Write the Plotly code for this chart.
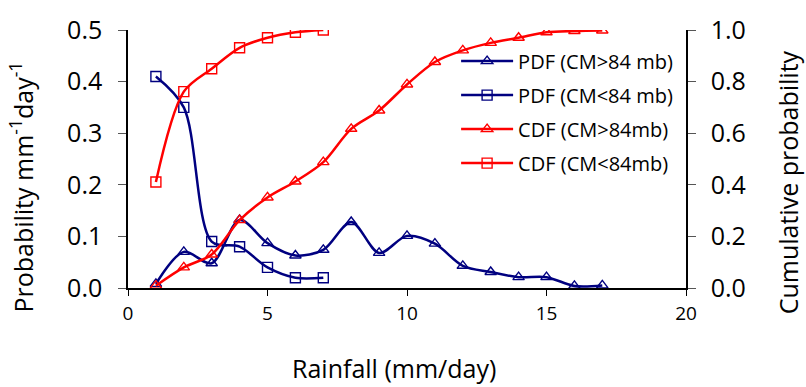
import plotly.graph_objects as go

# Data
rain_gt = [1, 2, 3, 4, 5, 6, 7, 8, 9, 10, 11, 12, 13, 14, 15, 16, 17]
pdf_gt = [0.008, 0.070, 0.048, 0.132, 0.087, 0.063, 0.074, 0.128, 0.068,
          0.101, 0.086, 0.043, 0.031, 0.021, 0.021, 0.004, 0.005]
cdf_gt = [0.009, 0.080, 0.130, 0.263, 0.351, 0.413, 0.488, 0.617, 0.688,
          0.789, 0.876, 0.921, 0.950, 0.970, 0.991, 0.996, 0.998]

rain_lt = [1, 2, 3, 4, 5, 6, 7]
pdf_lt = [0.410, 0.350, 0.090, 0.080, 0.040, 0.020, 0.020]
cdf_lt = [0.411, 0.761, 0.850, 0.931, 0.970, 0.991, 1.000]

names = ["PDF (CM>84 mb)", "PDF (CM<84 mb)", "CDF (CM>84mb)", "CDF (CM<84mb)"]

NAVY = "#000080"
RED = "#FF0000"
FONT = "Open Sans"
AX = "#000000"

fig = go.Figure()

def add(x, y, name, color, symbol, yaxis, grp):
    fig.add_trace(go.Scatter(
        x=x, y=y, name=name, mode="lines+markers", yaxis=yaxis,
        legendgroup=grp,
        line=dict(color=color, width=2.5, shape="spline", smoothing=0.9),
        marker=dict(symbol=symbol, size=10, color=color,
                    line=dict(color=color, width=1.4)),
    ))

add(rain_gt, pdf_gt, names[0], NAVY, "triangle-up-open", "y", "g1")
add(rain_lt, pdf_lt, names[1], NAVY, "square-open", "y", "g2")
add(rain_gt, cdf_gt, names[2], RED, "triangle-up-open", "y2", "g3")
add(rain_lt, cdf_lt, names[3], RED, "square-open", "y2", "g4")

tickfont = dict(family=FONT, size=25, color="#000")

fig.update_layout(
    width=806, height=387,
    margin=dict(l=128, r=120, t=21, b=99),
    paper_bgcolor="white", plot_bgcolor="white",
    font=dict(family=FONT, color="#000"),
    showlegend=True,
    legend=dict(
        x=0.588, y=0.955, xanchor="left", yanchor="top",
        bgcolor="rgba(255,255,255,0)", borderwidth=0,
        font=dict(family=FONT, size=20, color="#000"),
        tracegroupgap=5, itemwidth=52,
        traceorder="grouped",
    ),
    xaxis=dict(
        range=[0, 20], tickvals=[0, 5, 10, 15, 20],
        showgrid=False, zeroline=False,
        showline=True, linecolor=AX, linewidth=1.5,
        ticks="outside", ticklen=6, tickcolor=AX, tickwidth=1.2,
        tickfont=dict(family=FONT, size=19, color="#000"),
        ticklabelstandoff=1,
    ),
    xaxis2=dict(
        range=[0, 20], tickvals=[0, 5, 10, 15, 20], overlaying="x",
        side="bottom", anchor="y",
        showgrid=False, zeroline=False, showline=False,
        ticks="inside", ticklen=4, tickcolor=AX, tickwidth=1.2,
        showticklabels=False,
    ),
    xaxis3=dict(
        range=[0, 20], overlaying="x", side="top", anchor="y",
        showgrid=False, zeroline=False, showline=True,
        linecolor="#808080", linewidth=1.5,
        ticks="", showticklabels=False,
    ),
    yaxis=dict(
        range=[0, 0.5], tickvals=[0, 0.1, 0.2, 0.3, 0.4, 0.5],
        tickformat=".1f",
        showgrid=False, zeroline=False,
        showline=True, linecolor=AX, linewidth=1.5,
        ticks="outside", ticklen=8, tickcolor="#555", tickwidth=1.2,
        tickfont=tickfont, ticklabelstandoff=11,
    ),
    yaxis2=dict(
        range=[0, 1.0], tickvals=[0, 0.2, 0.4, 0.6, 0.8, 1.0],
        tickformat=".1f", overlaying="y", side="right", anchor="x",
        showgrid=False, zeroline=False,
        showline=True, linecolor=AX, linewidth=1.5,
        ticks="outside", ticklen=8, tickcolor="#555", tickwidth=1.2,
        tickfont=tickfont, ticklabelstandoff=10,
    ),
    yaxis3=dict(
        range=[0, 0.5], tickvals=[0, 0.1, 0.2, 0.3, 0.4, 0.5],
        overlaying="y", side="left", anchor="x",
        showgrid=False, zeroline=False, showline=False,
        ticks="inside", ticklen=8, tickcolor="#555", tickwidth=1.2,
        showticklabels=False,
    ),
    yaxis4=dict(
        range=[0, 1.0], tickvals=[0, 0.2, 0.4, 0.6, 0.8, 1.0],
        overlaying="y", side="right", anchor="x",
        showgrid=False, zeroline=False, showline=False,
        ticks="inside", ticklen=8, tickcolor="#555", tickwidth=1.2,
        showticklabels=False,
    ),
    annotations=[
        dict(text="Rainfall (mm/day)", xref="paper", yref="paper",
             x=0.477, y=-0.31, xanchor="center", yanchor="middle",
             showarrow=False, font=dict(family=FONT, size=25, color="#000")),
        dict(text="Probability mm<sup>-1</sup>day<sup>-1</sup>",
             xref="paper", yref="paper", x=-0.19, y=0.393,
             xanchor="center", yanchor="middle", textangle=-90,
             showarrow=False, font=dict(family=FONT, size=25, color="#000")),
        dict(text="Cumulative probability", xref="paper", yref="paper",
             x=1.183, y=0.41, xanchor="center", yanchor="middle",
             textangle=-90, showarrow=False,
             font=dict(family=FONT, size=25, color="#000")),
    ],
)

fig.write_html("out.html")
